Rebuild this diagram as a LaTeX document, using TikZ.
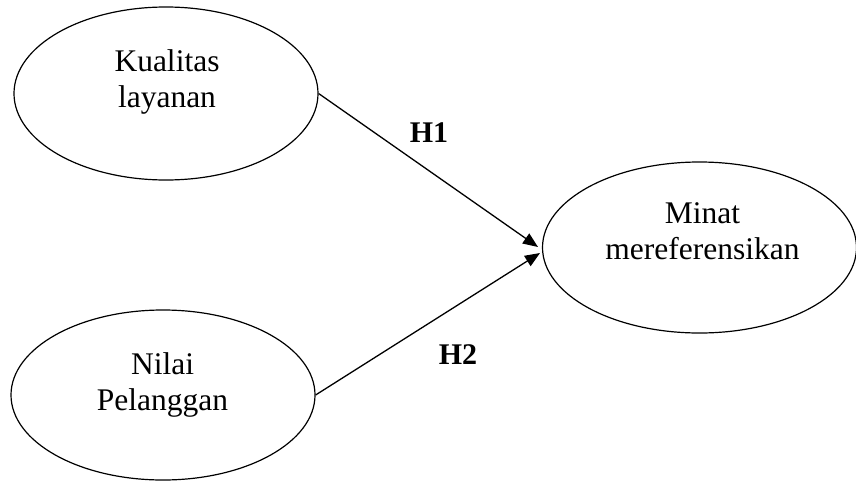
\documentclass[tikz,border=0pt]{standalone}
\usepackage{fontspec}
\setmainfont{Liberation Serif}
\usetikzlibrary{shapes.geometric,arrows.meta}
\begin{document}
\begin{tikzpicture}[x=1pt,y=-1pt,
  oval/.style={draw,ellipse,line width=1.2pt,inner sep=0pt},
  lbl/.style={align=center,inner sep=0pt,font=\fontsize{31.5}{36}\selectfont},
  hyp/.style={inner sep=0pt,font=\fontsize{30}{34}\selectfont\bfseries},
  link/.style={line width=1.3pt,-{Triangle[length=15pt,width=12pt]}}]
\useasboundingbox (0,0) rectangle (856,482);
\node[oval,minimum width=304pt,minimum height=173pt] (k) at (166,93.5) {};
\node[oval,minimum width=304pt,minimum height=170pt] (n) at (163,395) {};
\node[oval,minimum width=314pt,minimum height=171pt] (m) at (699.5,247.5) {};
\node[lbl] (kt) at (167,82.2) {Kualitas\\layanan};
\node[lbl] (nt) at (162.5,384.7) {Nilai\\Pelanggan};
\node[lbl] (mt) at (702.5,230.8) {Minat\\mereferensikan};
\coordinate (t1) at (538,247);
\coordinate (t2) at (540,253);
\draw[link] (k.east) -- (t1);
\draw[link] (n.east) -- (t2);
\node[hyp] (h1) at (429,133) {H1};
\node[hyp] (h2) at (458,355) {H2};
\end{tikzpicture}
\end{document}
